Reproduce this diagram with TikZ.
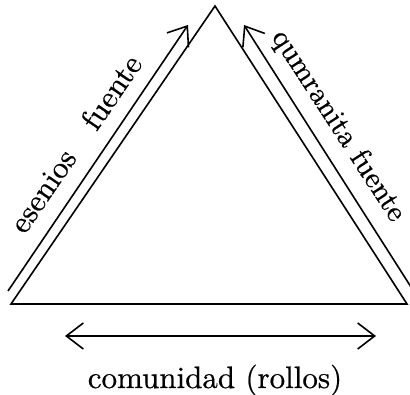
\documentclass[tikz,border=0pt]{standalone}
\usepackage{fontspec}
\newfontfamily\labfont{lmroman10-regular.otf}[FakeBold=0.6]
\usetikzlibrary{arrows.meta}
\begin{document}
\begin{tikzpicture}[x=1pt,y=1pt, line width=1.6pt,
  lbl/.style={font=\labfont\fontsize{31}{37}\selectfont, inner sep=0pt},
  barbtip/.tip={Straight Barb[length=17pt,width=26pt,line width=1.6pt]}]
\useasboundingbox (0,0) rectangle (410,395);
\coordinate (A) at (11,91);
\coordinate (B) at (215,389);
\coordinate (C) at (407,91);
\draw[line join=miter] (A) -- (B) -- (C) -- cycle;
\coordinate (l1) at (8,104);
\coordinate (l2) at (188,370);
\draw[-barbtip] (l1) -- (l2);
\coordinate (r1) at (411,108);
\coordinate (r2) at (244,370);
\draw[-barbtip] (r1) -- (r2);
\coordinate (b1) at (65,59);
\coordinate (b2) at (376,59);
\draw[barbtip-barbtip] (b1) -- (b2);
\node[lbl, anchor=base] (com) at (215,7) {comunidad (rollos)};
\node[lbl, rotate=55.6] (ese) at (43,204) {esenios};
\node[lbl, rotate=55.6] (fue) at (111,303) {fuente};
\node[lbl, rotate=-57, font=\labfont\fontsize{29.5}{35}\selectfont] (qum) at (338,269) {qumranita fuente};
\end{tikzpicture}
\end{document}
